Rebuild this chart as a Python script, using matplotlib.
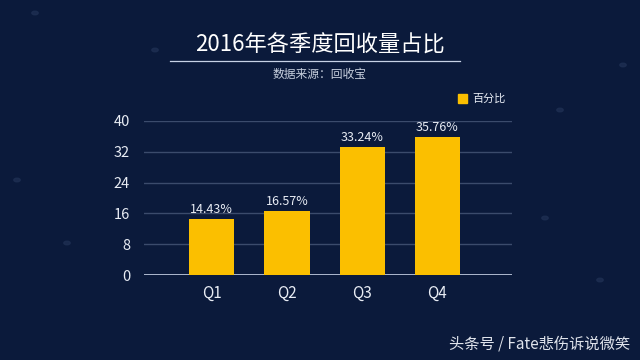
import matplotlib
matplotlib.use("Agg")
import matplotlib.pyplot as plt
from matplotlib.patches import Rectangle

plt.rcParams['font.family'] = ['Noto Sans CJK SC', 'DejaVu Sans']

categories = ["Q1", "Q2", "Q3", "Q4"]
values = [14.43, 16.57, 33.24, 35.76]
value_labels = ["14.43%", "16.57%", "33.24%", "35.76%"]
yticks = [0, 8, 16, 24, 32, 40]
title = "2016年各季度回收量占比"
subtitle = "数据来源：回收宝"
legend_label = "百分比"
watermark = "头条号 / Fate悲伤诉说微笑"

bg = "#0b1a3b"
bar_color = "#fbbf00"
text_color = "#e8ecf4"

fig = plt.figure(figsize=(6.4, 3.6), dpi=100, facecolor=bg)
ax = fig.add_axes([0.225, 0.236, 0.575, 0.428], facecolor=bg)

x = list(range(len(categories)))
ax.bar(x, values, width=0.6, color=bar_color, zorder=3)
for xi, v, lab in zip(x, values, value_labels):
    ax.text(xi, v + 0.8, lab, ha='center', va='bottom', color=text_color, fontsize=9, zorder=4)

ax.set_xlim(-0.9, 3.99)
ax.set_ylim(0, 40)
ax.set_yticks(yticks)
ax.set_yticklabels([str(t) for t in yticks])
ax.set_xticks(x)
ax.set_xticklabels(categories)
ax.yaxis.grid(True, color="#3b4b6c", linewidth=1.0, zorder=0)
ax.axhline(0, color="#c8d2e6", linewidth=1.2, zorder=2)
for s in ax.spines.values():
    s.set_visible(False)
ax.tick_params(axis='both', length=0, colors=text_color)
ax.tick_params(axis='y', labelsize=10.5, pad=10)
ax.tick_params(axis='x', labelsize=11, pad=7)

# title and subtitle
fig.text(0.5, 1 - 45/360, title, ha='center', va='center', color='white', fontsize=16)
fig.add_artist(plt.Line2D([170/640, 460/640], [1 - 61/360, 1 - 61/360], color='#c8d2e6', linewidth=0.9))
fig.text(0.5, 1 - 74/360, subtitle, ha='center', va='center', color='#c8d0de', fontsize=8.5)

# legend
fig.add_artist(Rectangle((458/640, 1 - 103/360), 9/640, 9/360, color=bar_color, transform=fig.transFigure))
fig.text(472/640, 1 - 98.5/360, legend_label, ha='left', va='center', color=text_color, fontsize=8)

# watermark
fig.text(630/640, 1 - 344/360, watermark, ha='right', va='center', color='#e0e4ec', fontsize=11)

# faint decorative dots
dots_x = [35, 155, 17, 623, 67, 545, 600, 560]
dots_y = [13, 50, 180, 65, 243, 218, 280, 110]
for dx, dy in zip(dots_x, dots_y):
    fig.add_artist(plt.Circle((dx/640, 1 - dy/360), 0.005, color='#1e2f52', transform=fig.transFigure, alpha=0.8))

fig.savefig("out.png", dpi=100, facecolor=bg)
